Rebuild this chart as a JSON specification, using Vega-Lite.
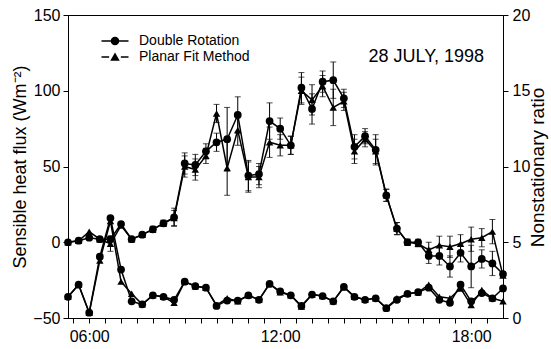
{
  "$schema": "https://vega.github.io/schema/vega-lite/v6.json",
  "width": 435,
  "height": 303,
  "autosize": {"type": "none"},
  "padding": {"left": 68, "top": 15, "right": 48, "bottom": 31},
  "background": "white",
  "title": {"text": "28 JULY, 1998", "orient": "top", "anchor": "end", "frame": "group", "offset": 0, "dx": -19, "dy": 73, "baseline": "alphabetic", "font": "Liberation Sans", "fontSize": 18, "fontWeight": "normal", "color": "black"},
  "config": {
    "view": {"stroke": "black", "strokeWidth": 1},
    "font": "Liberation Sans",
    "axis": {
      "grid": false, "domainColor": "black", "tickColor": "black", "labelColor": "black", "titleColor": "black",
      "labelFont": "Liberation Sans", "titleFont": "Liberation Sans", "labelFontSize": 16, "titleFontSize": 18,
      "titleFontWeight": "normal", "tickSize": 5, "domainWidth": 1, "tickWidth": 1
    }
  },
  "data": {"values": [
    {"t":"1998-07-28T05:20","m":"Double Rotation","flux":0,"err":0,"ratio":1.4},
    {"t":"1998-07-28T05:20","m":"Planar Fit Method","flux":0,"err":0,"ratio":1.4},
    {"t":"1998-07-28T05:40","m":"Double Rotation","flux":1,"err":0,"ratio":2.2},
    {"t":"1998-07-28T05:40","m":"Planar Fit Method","flux":1,"err":0,"ratio":2.2},
    {"t":"1998-07-28T06:00","m":"Double Rotation","flux":3,"err":0,"ratio":0.35},
    {"t":"1998-07-28T06:00","m":"Planar Fit Method","flux":7,"err":0,"ratio":0.35},
    {"t":"1998-07-28T06:20","m":"Double Rotation","flux":2,"err":0,"ratio":4.05},
    {"t":"1998-07-28T06:20","m":"Planar Fit Method","flux":2,"err":0,"ratio":3.8},
    {"t":"1998-07-28T06:40","m":"Double Rotation","flux":2,"err":0,"ratio":6.6},
    {"t":"1998-07-28T06:40","m":"Planar Fit Method","flux":-1,"err":5,"ratio":6.4},
    {"t":"1998-07-28T07:00","m":"Double Rotation","flux":12,"err":0,"ratio":3.2},
    {"t":"1998-07-28T07:00","m":"Planar Fit Method","flux":11,"err":0,"ratio":2.4},
    {"t":"1998-07-28T07:20","m":"Double Rotation","flux":2,"err":0,"ratio":1.1},
    {"t":"1998-07-28T07:20","m":"Planar Fit Method","flux":2,"err":0,"ratio":1.6},
    {"t":"1998-07-28T07:40","m":"Double Rotation","flux":5,"err":0,"ratio":0.9},
    {"t":"1998-07-28T07:40","m":"Planar Fit Method","flux":5,"err":0,"ratio":0.9},
    {"t":"1998-07-28T08:00","m":"Double Rotation","flux":8.5,"err":2,"ratio":1.5},
    {"t":"1998-07-28T08:00","m":"Planar Fit Method","flux":8.5,"err":2,"ratio":1.5},
    {"t":"1998-07-28T08:20","m":"Double Rotation","flux":12.5,"err":2,"ratio":1.4},
    {"t":"1998-07-28T08:20","m":"Planar Fit Method","flux":12.5,"err":2,"ratio":1.4},
    {"t":"1998-07-28T08:40","m":"Double Rotation","flux":16.5,"err":6,"ratio":1.2},
    {"t":"1998-07-28T08:40","m":"Planar Fit Method","flux":16,"err":5,"ratio":1.0},
    {"t":"1998-07-28T09:00","m":"Double Rotation","flux":52,"err":7,"ratio":2.4},
    {"t":"1998-07-28T09:00","m":"Planar Fit Method","flux":50,"err":7,"ratio":2.4},
    {"t":"1998-07-28T09:20","m":"Double Rotation","flux":51,"err":7,"ratio":2.1},
    {"t":"1998-07-28T09:20","m":"Planar Fit Method","flux":48,"err":7,"ratio":2.1},
    {"t":"1998-07-28T09:40","m":"Double Rotation","flux":60,"err":5,"ratio":2.0},
    {"t":"1998-07-28T09:40","m":"Planar Fit Method","flux":57,"err":5,"ratio":2.0},
    {"t":"1998-07-28T10:00","m":"Double Rotation","flux":66,"err":6,"ratio":0.8},
    {"t":"1998-07-28T10:00","m":"Planar Fit Method","flux":85,"err":6,"ratio":0.85},
    {"t":"1998-07-28T10:20","m":"Double Rotation","flux":68,"err":21,"ratio":1.15},
    {"t":"1998-07-28T10:20","m":"Planar Fit Method","flux":49,"err":18,"ratio":1.3},
    {"t":"1998-07-28T10:40","m":"Double Rotation","flux":84,"err":12,"ratio":1.15},
    {"t":"1998-07-28T10:40","m":"Planar Fit Method","flux":74,"err":10,"ratio":1.1},
    {"t":"1998-07-28T11:00","m":"Double Rotation","flux":44,"err":10,"ratio":1.5},
    {"t":"1998-07-28T11:00","m":"Planar Fit Method","flux":43,"err":10,"ratio":1.5},
    {"t":"1998-07-28T11:20","m":"Double Rotation","flux":45,"err":7,"ratio":1.2},
    {"t":"1998-07-28T11:20","m":"Planar Fit Method","flux":43,"err":7,"ratio":1.2},
    {"t":"1998-07-28T11:40","m":"Double Rotation","flux":80,"err":12,"ratio":2.25},
    {"t":"1998-07-28T11:40","m":"Planar Fit Method","flux":66,"err":10,"ratio":2.25},
    {"t":"1998-07-28T12:00","m":"Double Rotation","flux":75,"err":7,"ratio":1.75},
    {"t":"1998-07-28T12:00","m":"Planar Fit Method","flux":64,"err":7,"ratio":1.7},
    {"t":"1998-07-28T12:20","m":"Double Rotation","flux":64,"err":6,"ratio":1.5},
    {"t":"1998-07-28T12:20","m":"Planar Fit Method","flux":64,"err":6,"ratio":1.5},
    {"t":"1998-07-28T12:40","m":"Double Rotation","flux":102,"err":10,"ratio":0.8},
    {"t":"1998-07-28T12:40","m":"Planar Fit Method","flux":100,"err":9,"ratio":0.75},
    {"t":"1998-07-28T13:00","m":"Double Rotation","flux":88,"err":10,"ratio":1.55},
    {"t":"1998-07-28T13:00","m":"Planar Fit Method","flux":94,"err":10,"ratio":1.55},
    {"t":"1998-07-28T13:20","m":"Double Rotation","flux":106,"err":7,"ratio":1.45},
    {"t":"1998-07-28T13:20","m":"Planar Fit Method","flux":103,"err":7,"ratio":1.45},
    {"t":"1998-07-28T13:40","m":"Double Rotation","flux":107,"err":12,"ratio":1.1},
    {"t":"1998-07-28T13:40","m":"Planar Fit Method","flux":89,"err":12,"ratio":1.1},
    {"t":"1998-07-28T14:00","m":"Double Rotation","flux":95,"err":6,"ratio":2.05},
    {"t":"1998-07-28T14:00","m":"Planar Fit Method","flux":93,"err":6,"ratio":2.05},
    {"t":"1998-07-28T14:20","m":"Double Rotation","flux":63,"err":8,"ratio":1.4},
    {"t":"1998-07-28T14:20","m":"Planar Fit Method","flux":60,"err":8,"ratio":1.4},
    {"t":"1998-07-28T14:40","m":"Double Rotation","flux":70,"err":5,"ratio":1.2},
    {"t":"1998-07-28T14:40","m":"Planar Fit Method","flux":68,"err":5,"ratio":1.2},
    {"t":"1998-07-28T15:00","m":"Double Rotation","flux":61,"err":10,"ratio":1.3},
    {"t":"1998-07-28T15:00","m":"Planar Fit Method","flux":60,"err":8,"ratio":1.3},
    {"t":"1998-07-28T15:20","m":"Double Rotation","flux":31,"err":4,"ratio":0.65},
    {"t":"1998-07-28T15:20","m":"Planar Fit Method","flux":31,"err":4,"ratio":0.65},
    {"t":"1998-07-28T15:40","m":"Double Rotation","flux":9,"err":4,"ratio":1.2},
    {"t":"1998-07-28T15:40","m":"Planar Fit Method","flux":9,"err":4,"ratio":1.3},
    {"t":"1998-07-28T16:00","m":"Double Rotation","flux":0,"err":2,"ratio":1.6},
    {"t":"1998-07-28T16:00","m":"Planar Fit Method","flux":0,"err":2,"ratio":1.6},
    {"t":"1998-07-28T16:20","m":"Double Rotation","flux":0,"err":2,"ratio":1.7},
    {"t":"1998-07-28T16:20","m":"Planar Fit Method","flux":-1,"err":2,"ratio":1.7},
    {"t":"1998-07-28T16:40","m":"Double Rotation","flux":-9,"err":5,"ratio":2.0},
    {"t":"1998-07-28T16:40","m":"Planar Fit Method","flux":-5,"err":5,"ratio":2.2},
    {"t":"1998-07-28T17:00","m":"Double Rotation","flux":-9,"err":6,"ratio":1.2},
    {"t":"1998-07-28T17:00","m":"Planar Fit Method","flux":-2,"err":6,"ratio":1.4},
    {"t":"1998-07-28T17:20","m":"Double Rotation","flux":-16,"err":7,"ratio":1.0},
    {"t":"1998-07-28T17:20","m":"Planar Fit Method","flux":-3,"err":7,"ratio":1.3},
    {"t":"1998-07-28T17:40","m":"Double Rotation","flux":-7,"err":6,"ratio":2.2},
    {"t":"1998-07-28T17:40","m":"Planar Fit Method","flux":-1,"err":6,"ratio":1.95},
    {"t":"1998-07-28T18:00","m":"Double Rotation","flux":-16,"err":14,"ratio":1.1},
    {"t":"1998-07-28T18:00","m":"Planar Fit Method","flux":2,"err":8,"ratio":0.85},
    {"t":"1998-07-28T18:20","m":"Double Rotation","flux":-11,"err":6,"ratio":1.65},
    {"t":"1998-07-28T18:20","m":"Planar Fit Method","flux":3,"err":6,"ratio":1.85},
    {"t":"1998-07-28T18:40","m":"Double Rotation","flux":-14,"err":8,"ratio":1.3},
    {"t":"1998-07-28T18:40","m":"Planar Fit Method","flux":7,"err":8,"ratio":1.3},
    {"t":"1998-07-28T19:00","m":"Double Rotation","flux":-21,"err":0,"ratio":1.95},
    {"t":"1998-07-28T19:00","m":"Planar Fit Method","flux":-22,"err":0,"ratio":1.1}
  ]},
  "encoding": {
    "x": {
      "field": "t", "type": "temporal",
      "scale": {"domain": [{"year":1998,"month":7,"date":28,"hours":5,"minutes":20},{"year":1998,"month":7,"date":28,"hours":19,"minutes":0}]},
      "axis": {
        "title": null,
        "values": [
          {"year":1998,"month":7,"date":28,"hours":5,"minutes":30},
          {"year":1998,"month":7,"date":28,"hours":6,"minutes":0},
          {"year":1998,"month":7,"date":28,"hours":6,"minutes":30},
          {"year":1998,"month":7,"date":28,"hours":7,"minutes":0},
          {"year":1998,"month":7,"date":28,"hours":7,"minutes":30},
          {"year":1998,"month":7,"date":28,"hours":8,"minutes":0},
          {"year":1998,"month":7,"date":28,"hours":8,"minutes":30},
          {"year":1998,"month":7,"date":28,"hours":9,"minutes":0},
          {"year":1998,"month":7,"date":28,"hours":9,"minutes":30},
          {"year":1998,"month":7,"date":28,"hours":10,"minutes":0},
          {"year":1998,"month":7,"date":28,"hours":10,"minutes":30},
          {"year":1998,"month":7,"date":28,"hours":11,"minutes":0},
          {"year":1998,"month":7,"date":28,"hours":11,"minutes":30},
          {"year":1998,"month":7,"date":28,"hours":12,"minutes":0},
          {"year":1998,"month":7,"date":28,"hours":12,"minutes":30},
          {"year":1998,"month":7,"date":28,"hours":13,"minutes":0},
          {"year":1998,"month":7,"date":28,"hours":13,"minutes":30},
          {"year":1998,"month":7,"date":28,"hours":14,"minutes":0},
          {"year":1998,"month":7,"date":28,"hours":14,"minutes":30},
          {"year":1998,"month":7,"date":28,"hours":15,"minutes":0},
          {"year":1998,"month":7,"date":28,"hours":15,"minutes":30},
          {"year":1998,"month":7,"date":28,"hours":16,"minutes":0},
          {"year":1998,"month":7,"date":28,"hours":16,"minutes":30},
          {"year":1998,"month":7,"date":28,"hours":17,"minutes":0},
          {"year":1998,"month":7,"date":28,"hours":17,"minutes":30},
          {"year":1998,"month":7,"date":28,"hours":18,"minutes":0},
          {"year":1998,"month":7,"date":28,"hours":18,"minutes":30}
        ],
        "labelExpr": "(hours(datum.value) % 6 == 0 && minutes(datum.value) == 0) ? timeFormat(datum.value, '%H:%M') : ''",
        "labelOverlap": false, "labelFlush": false, "labelPadding": 5, "labelFontSize": 16
      }
    }
  },
  "layer": [
    {
      "encoding": {
        "y": {
          "field": "flux", "type": "quantitative",
          "scale": {"domain": [-50, 150], "nice": false, "zero": false},
          "axis": {"orient": "left", "title": "Sensible heat flux (Wm⁻²)", "values": [-50, 0, 50, 100, 150], "labelPadding": 3, "titlePadding": 3}
        }
      },
      "layer": [
        {
          "transform": [{"filter": "datum.err > 0"}],
          "mark": {"type": "errorbar", "color": "black", "ticks": {"size": 6, "color": "black"}, "rule": {"color": "black", "strokeWidth": 1}},
          "encoding": {"yError": {"field": "err"}}
        },
        {
          "mark": {"type": "line", "color": "black", "strokeWidth": 1.5},
          "encoding": {"detail": {"field": "m", "type": "nominal"}}
        },
        {
          "transform": [{"filter": "datum.m == 'Double Rotation'"}],
          "mark": {"type": "point", "shape": "circle", "filled": true, "color": "black", "size": 60, "opacity": 1}
        },
        {
          "transform": [{"filter": "datum.m == 'Planar Fit Method'"}],
          "mark": {"type": "point", "shape": "triangle-up", "filled": true, "color": "black", "size": 55, "opacity": 1}
        },
        {
          "transform": [{"filter": "datum.flux > 1000"}],
          "mark": {"type": "point", "filled": true, "color": "black", "opacity": 1},
          "encoding": {
            "shape": {
              "field": "m", "type": "nominal",
              "scale": {
                "domain": ["Double Rotation", "Planar Fit Method"],
                "range": [
                  "M-3,-0.16H3V0.16H-3Z M0.95,0A0.95,0.95,0,1,1,-0.95,0A0.95,0.95,0,1,1,0.95,0Z",
                  "M-3,-0.16H-1.3V0.16H-3Z M1.3,-0.16H3V0.16H1.3Z M0,-1L1.05,0.85H-1.05Z"
                ]
              },
              "legend": {
                "title": null, "orient": "none", "legendX": 40, "legendY": 19, "padding": 0,
                "symbolSize": 81, "symbolStrokeWidth": 0, "symbolFillColor": "black", "symbolOpacity": 1,
                "labelFont": "Liberation Sans", "labelFontSize": 14, "labelColor": "black", "labelOffset": 17, "rowPadding": 2
              }
            }
          }
        }
      ]
    },
    {
      "encoding": {
        "y": {
          "field": "ratio", "type": "quantitative",
          "scale": {"domain": [0, 20], "nice": false, "zero": false},
          "axis": {"orient": "right", "title": "Nonstationary ratio", "values": [0, 5, 10, 15, 20], "labelPadding": 4, "titleFontSize": 19, "titleAngle": 270, "titleX": 34, "titleY": 152, "titleAlign": "center", "titleBaseline": "middle"}
        }
      },
      "layer": [
        {
          "mark": {"type": "line", "color": "black", "strokeWidth": 1.5},
          "encoding": {"detail": {"field": "m", "type": "nominal"}}
        },
        {
          "transform": [{"filter": "datum.m == 'Double Rotation'"}],
          "mark": {"type": "point", "shape": "circle", "filled": true, "color": "black", "size": 60, "opacity": 1}
        },
        {
          "transform": [{"filter": "datum.m == 'Planar Fit Method'"}],
          "mark": {"type": "point", "shape": "triangle-up", "filled": true, "color": "black", "size": 55, "opacity": 1}
        }
      ]
    }
  ],
  "resolve": {"scale": {"y": "independent"}}
}
